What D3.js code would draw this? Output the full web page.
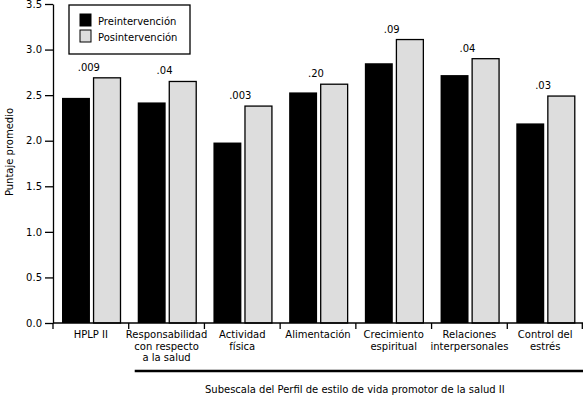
<!DOCTYPE html>
<html>
<head>
<meta charset="utf-8">
<script src="https://cdn.jsdelivr.net/npm/d3@7"></script>
<style>
  body { margin: 0; background: #fff; }
  svg text { font-family: "DejaVu Sans", Verdana, sans-serif; font-size: 10px; fill: #000; }
</style>
</head>
<body>
<svg></svg>
<script>
// data
var categories = [
  ['HPLP II'],
  ['Responsabilidad', 'con respecto', 'a la salud'],
  ['Actividad', 'física'],
  ['Alimentación'],
  ['Crecimiento', 'espiritual'],
  ['Relaciones', 'interpersonales'],
  ['Control del', 'estrés']
];
var preValues = [2.47, 2.42, 1.98, 2.53, 2.85, 2.72, 2.19];
var postValues = [2.69, 2.65, 2.38, 2.62, 3.11, 2.90, 2.49];
var pValues = ['.009', '.04', '.003', '.20', '.09', '.04', '.03'];
var seriesNames = ['Preintervención', 'Posintervención'];
var yTicks = [0, 0.5, 1, 1.5, 2, 2.5, 3, 3.5];

var width = 583;
var height = 396;
var margin = { top: 4, left: 53, right: 0, bottom: 73 };

var svg = d3.select('svg')
  .attr('width', width)
  .attr('height', height);

var colors = ['#000000', '#dddddd'];

var x0 = d3.scaleBand()
  .domain(d3.range(categories.length))
  .range([margin.left, width - margin.right]);

var x1 = d3.scaleBand()
  .domain([0, 1])
  .range([9, 68])
  .paddingInner(0.1);

var y = d3.scaleLinear()
  .domain([0, 3.5])
  .range([height - margin.bottom, margin.top]);

var groups = svg.selectAll('.group')
  .data(categories.map(function(c, i) {
    return { name: c, vals: [preValues[i], postValues[i]], p: pValues[i], i: i };
  }))
  .enter()
  .append('g')
    .attr('class', 'group')
    .attr('transform', d => `translate(${x0(d.i)},0)`);

groups.selectAll('rect')
  .data(d => d.vals.map((v, k) => ({ v: v, k: k })))
  .enter()
  .append('rect')
    .attr('x', d => x1(d.k) + (d.k ? 0.5 : 0))
    .attr('y', d => y(d.v))
    .attr('width', d => x1.bandwidth() - (d.k ? 1 : 0))
    .attr('height', d => y(0) - y(d.v))
    .attr('fill', d => colors[d.k])
    .attr('stroke', d => d.k ? '#000' : 'none')
    .attr('stroke-width', 1.3);

groups.append('text')
  .attr('x', x0.bandwidth() / 2 - 2)
  .attr('y', d => y(d3.max(d.vals)) - 7)
  .attr('text-anchor', 'middle')
  .text(d => d.p);

// y axis
var yAxis = svg.append('g')
  .attr('transform', `translate(${margin.left},0)`)
  .call(d3.axisLeft(y).tickValues(yTicks).tickFormat(d3.format('.1f')).tickSize(8).tickSizeOuter(0).tickPadding(3));
yAxis.select('.domain').attr('stroke-width', 1.3);
yAxis.selectAll('.tick line').attr('stroke-width', 1.3);
yAxis.selectAll('text').style('font-size', '10px').attr('font-family', null);

// x axis
var xAxis = svg.append('g')
  .attr('transform', `translate(0,${y(0)})`);
xAxis.append('line')
  .attr('x1', margin.left).attr('x2', width - margin.right)
  .attr('stroke', '#000').attr('stroke-width', 1.3);
xAxis.selectAll('.bound')
  .data(d3.range(categories.length + 1))
  .enter()
  .append('line')
    .attr('x1', d => Math.min(x0.range()[0] + d * x0.step(), width - 0.7))
    .attr('x2', d => Math.min(x0.range()[0] + d * x0.step(), width - 0.7))
    .attr('y1', 0).attr('y2', 6)
    .attr('stroke', '#000').attr('stroke-width', 1.3);

var labels = xAxis.selectAll('.xlabel')
  .data(categories)
  .enter()
  .append('text')
    .attr('text-anchor', 'middle')
    .attr('transform', (d, i) => `translate(${x0(i) + x0.bandwidth() / 2},15)`);
labels.selectAll('tspan')
  .data(d => d)
  .enter()
  .append('tspan')
    .attr('x', 0)
    .attr('y', (d, i) => i * 11.5)
    .text(d => d);

// bracket under subscales
svg.append('line')
  .attr('x1', x0(1) + 6).attr('x2', width)
  .attr('y1', 371).attr('y2', 371)
  .attr('stroke', '#000').attr('stroke-width', 2.5);

svg.append('text')
  .attr('x', (x0(1) + 6 + width) / 2 - 4)
  .attr('y', 393)
  .attr('text-anchor', 'middle')
  .text('Subescala del Perfil de estilo de vida promotor de la salud II');

svg.append('text')
  .attr('transform', 'translate(12.5,152) rotate(-90)')
  .attr('text-anchor', 'middle')
  .text('Puntaje promedio');

// legend
var legend = svg.append('g').attr('transform', 'translate(69,5)');
legend.append('rect')
  .attr('width', 121).attr('height', 49)
  .attr('fill', '#fff').attr('stroke', '#000').attr('stroke-width', 1.3);
var items = legend.selectAll('.item')
  .data(seriesNames)
  .enter()
  .append('g')
    .attr('transform', (d, i) => `translate(11,${9 + i * 16})`);
items.append('rect')
  .attr('width', 11).attr('height', 12)
  .attr('fill', (d, i) => colors[i])
  .attr('stroke', '#000').attr('stroke-width', 1);
items.append('text')
  .attr('x', 18).attr('y', 11)
  .text(d => d);
</script>
</body>
</html>
